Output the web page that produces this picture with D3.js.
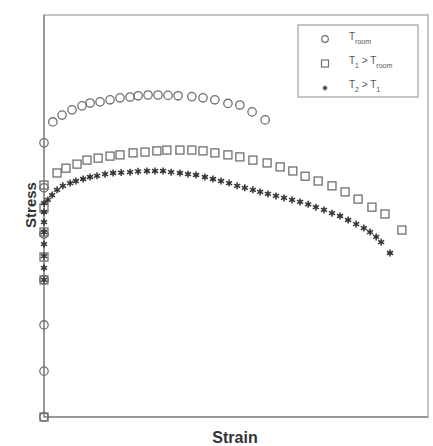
<!DOCTYPE html>
<html><head><meta charset="utf-8">
<script src="https://cdn.jsdelivr.net/npm/d3@7"></script>
<style>body{margin:0;background:#fff}svg{display:block}</style>
</head><body>
<script>
// Strain (arbitrary units 0-100) and Stress (arbitrary units 0-100)
const roomStrain = [0,0,0,0,0,0,0,2.3,4.7,7.3,9.9,12.0,14.6,17.2,19.8,22.4,24.5,27.1,29.7,32.3,34.9,38.5,41.4,44.5,47.9,51.0,54.2,57.6];
const roomStress = [0,11.4,22.9,34.1,45.5,57.0,68.2,73.4,75.1,76.4,77.4,78.1,78.4,78.9,79.4,79.6,79.9,80.1,80.1,80.0,79.9,79.7,79.4,78.9,78.0,77.6,75.9,73.9];

const t1Strain = [0,0,0,0,0,0,3.4,5.7,8.6,11.2,14.1,17.2,19.8,23.2,26.3,29.4,32.0,35.4,38.5,41.4,44.5,47.9,51.0,54.4,58.1,61.5,64.8,68.0,71.4,75.0,78.4,81.8,85.4,88.8,93.2];
const t1Stress = [0,34.1,39.8,46.0,52.0,57.7,60.7,61.9,62.9,63.9,64.4,64.9,65.2,65.7,65.9,66.2,66.4,66.4,66.4,66.2,65.7,65.2,64.7,63.9,63.2,62.2,61.2,59.9,58.7,57.5,56.0,54.2,52.2,50.5,46.5];

const t2Strain = [0,0,0,0,0,0,0,0,1.0,2.1,3.4,4.9,6.8,8.3,10.2,12.0,13.8,15.9,18.0,20.1,22.4,24.5,26.8,28.9,31.0,33.1,35.4,37.5,39.6,41.9,44.0,46.1,48.2,50.3,52.3,54.4,56.3,58.3,60.4,62.5,64.6,66.7,68.8,70.8,72.9,75.0,77.1,79.2,81.3,83.3,84.9,86.5,87.8,90.1];
const t2Stress = [34.1,37.1,40.0,43.0,46.0,48.5,51.0,53.2,54.0,55.2,56.5,57.5,58.2,58.7,59.2,59.7,60.0,60.4,60.7,60.8,60.9,61.1,61.2,61.2,61.2,60.9,60.7,60.4,60.2,59.7,59.2,58.7,58.2,57.5,57.0,56.5,56.0,55.5,55.0,54.5,54.0,53.5,52.9,52.2,51.5,50.7,50.0,49.0,48.0,47.0,46.0,44.8,43.5,40.8];

const xLabel = "Strain";
const yLabel = "Stress";

const W = 433, H = 446;
const svg = d3.select("body").append("svg").attr("width", W).attr("height", H);
const x = d3.scaleLinear().domain([0, 100]).range([44, 428]);
const y = d3.scaleLinear().domain([0, 100]).range([417, 15]);

const frameColor = "#8a8a8a";
svg.append("rect").attr("x", x(0)).attr("y", y(100))
  .attr("width", x(100) - x(0)).attr("height", y(0) - y(100))
  .attr("fill", "none").attr("stroke", "#b0b0b0").attr("stroke-width", 1.5);
svg.append("line").attr("x1", x(0)).attr("x2", x(0)).attr("y1", y(100)).attr("y2", y(0))
  .attr("stroke", frameColor).attr("stroke-width", 1.5);
svg.append("line").attr("x1", x(0)).attr("x2", x(100)).attr("y1", y(0)).attr("y2", y(0))
  .attr("stroke", frameColor).attr("stroke-width", 1.5);

const zip = (a, b) => a.map((v, i) => [v, b[i]]);
const grey = "#6f6f6f";

// squares
svg.append("g").selectAll("rect").data(zip(t1Strain, t1Stress)).join("rect")
  .attr("x", d => x(d[0]) - 4).attr("y", d => y(d[1]) - 4)
  .attr("width", 8).attr("height", 8)
  .attr("fill", "none").attr("stroke", grey).attr("stroke-width", 1.3);

// circles
svg.append("g").selectAll("circle").data(zip(roomStrain, roomStress)).join("circle")
  .attr("cx", d => x(d[0])).attr("cy", d => y(d[1])).attr("r", 4.2)
  .attr("fill", "none").attr("stroke", grey).attr("stroke-width", 1.3);

// asterisks
const star = d3.symbol().type(d3.symbolAsterisk).size(34);
svg.append("g").selectAll("path").data(zip(t2Strain, t2Stress)).join("path")
  .attr("transform", d => `translate(${x(d[0])},${y(d[1])})`)
  .attr("d", star).attr("fill", "none").attr("stroke", "#333").attr("stroke-width", 1.5);

// legend
const lg = svg.append("g");
lg.append("rect").attr("x", 298).attr("y", 25).attr("width", 120).attr("height", 72)
  .attr("fill", "#fff").attr("stroke", "#a0a0a0").attr("stroke-width", 1.2);
lg.append("circle").attr("cx", 325).attr("cy", 39).attr("r", 3.3)
  .attr("fill", "none").attr("stroke", grey).attr("stroke-width", 1.2);
lg.append("rect").attr("x", 321.5).attr("y", 60).attr("width", 7).attr("height", 7)
  .attr("fill", "none").attr("stroke", grey).attr("stroke-width", 1.2);
lg.append("path").attr("transform", "translate(325,88)").attr("d", d3.symbol().type(d3.symbolAsterisk).size(18))
  .attr("fill", "none").attr("stroke", "#444").attr("stroke-width", 1.2);

const legendText = [
  [{t:"T"},{t:"room",s:1}],
  [{t:"T"},{t:"1",s:1},{t:" > T"},{t:"room",s:1}],
  [{t:"T"},{t:"2",s:1},{t:" > T"},{t:"1",s:1}]
];
const rows = [40, 64, 88];
legendText.forEach((parts, i) => {
  const t = lg.append("text").attr("x", 349).attr("y", rows[i])
    .attr("font-family", "Liberation Sans, Arial, sans-serif").attr("font-size", 10).attr("fill", "#555");
  parts.forEach(p => {
    const ts = t.append("tspan").text(p.t);
    if (p.s) ts.attr("font-size", 7).attr("dy", 4);
    else if (t.selectAll("tspan").size() > 1) ts.attr("dy", -4);
  });
});

// axis labels
svg.append("text").attr("x", (x(0) + x(100)) / 2 - 1).attr("y", 443)
  .attr("text-anchor", "middle").attr("font-family", "Liberation Sans, Arial, sans-serif")
  .attr("font-weight", "bold").attr("font-size", 16).attr("fill", "#333").text(xLabel);
svg.append("text").attr("transform", `translate(36,${205}) rotate(-90)`)
  .attr("text-anchor", "middle").attr("font-family", "Liberation Sans, Arial, sans-serif")
  .attr("font-weight", "bold").attr("font-size", 15).attr("fill", "#333").text(yLabel);
</script>
</body></html>
